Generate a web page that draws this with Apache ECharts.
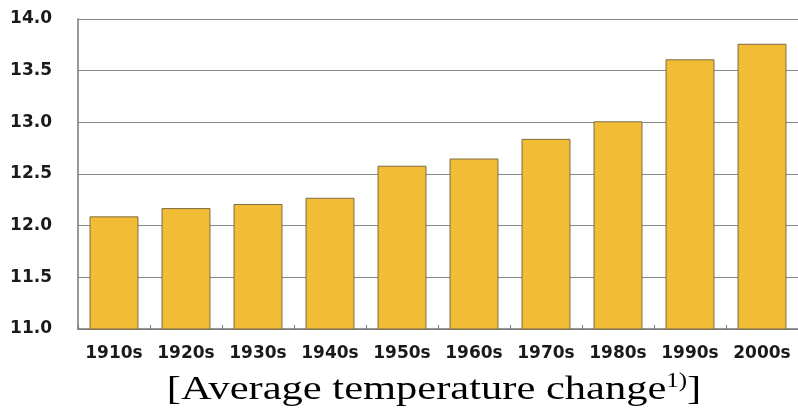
<!DOCTYPE html>
<html><head><meta charset="utf-8">
<script src="https://cdn.jsdelivr.net/npm/echarts@6/dist/echarts.min.js"></script>
<style>html,body{margin:0;padding:0;background:#fff}#c{width:798px;height:419px}</style>
</head><body><div id="c"></div>
<script>
const categories = ['1910s','1920s','1930s','1940s','1950s','1960s','1970s','1980s','1990s','2000s'];
const temps = [12.09, 12.17, 12.21, 12.27, 12.58, 12.65, 12.84, 13.01, 13.61, 13.76];
const yTicks = { min: 11.0, max: 14.0, interval: 0.5 };
const captionMain = '[Average temperature change';
const captionSup = '1)';

const chart = echarts.init(document.getElementById('c'), null, {renderer:'canvas'});
chart.setOption({
  animation: false,
  backgroundColor: '#fff',
  graphic: [{
    type: 'text', x: 434, y: 408, scaleX: 1.25, scaleY: 1,
    style: {
      text: captionMain + '{s|' + captionSup + '}]',
      font: '34px "Liberation Serif"', fill: '#000',
      align: 'center', verticalAlign: 'bottom',
      rich: { s: { fontFamily: 'Liberation Serif', fontSize: 20, verticalAlign: 'top', padding:[0,0,16,0], fill:'#000', color:'#000' } }
    }
  }],
  grid: { left: 78, right: 0, top: 19, bottom: 90, containLabel: false },
  xAxis: {
    type: 'category', data: categories,
    axisLine: { lineStyle: { color: '#777', width: 1.5 } },
    axisTick: { show: true, inside: true, length: 4, lineStyle: { color: '#777' } },
    axisLabel: { interval: 0, hideOverlap: false, fontFamily: 'DejaVu Sans', fontWeight: 'bold', fontSize: 17, color: '#1a1a1a', margin: 16 }
  },
  yAxis: {
    type: 'value', min: yTicks.min, max: yTicks.max, interval: yTicks.interval,
    axisLine: { show: true, lineStyle: { color: '#777', width: 1.5 } },
    axisTick: { show: false },
    splitLine: { lineStyle: { color: '#888', width: 1 } },
    axisLabel: { fontFamily: 'DejaVu Sans', fontWeight: 'bold', fontSize: 17, color: '#1a1a1a', margin: 26,
      formatter: v => v.toFixed(1) }
  },
  series: [{
    type: 'bar', data: temps, barWidth: '68%',
    itemStyle: { color: '#F2BD35', borderColor: '#7d6b45', borderWidth: 1 }
  }]
});
</script></body></html>
